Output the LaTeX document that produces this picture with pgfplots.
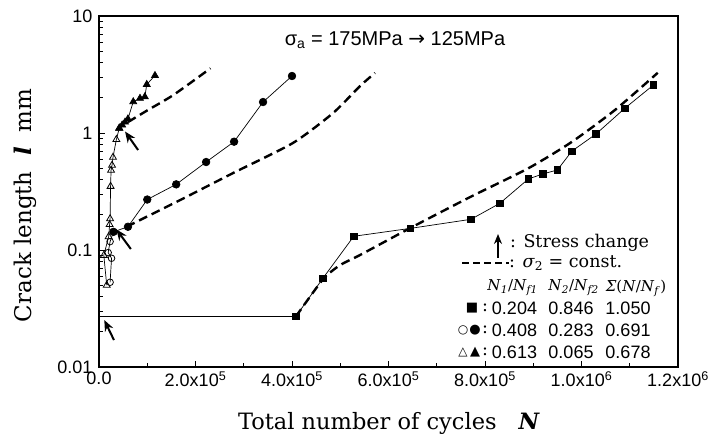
\documentclass[border=0pt]{standalone}
\usepackage{fontspec}
\setmainfont{DejaVu Serif}
\newfontfamily\sansf{Liberation Sans}
\newfontfamily\symf{DejaVu Sans}
\usepackage{pgfplots}
\pgfplotsset{compat=1.18}
\usetikzlibrary{arrows.meta}

\pgfplotstableread{
N l
408000 0.027
464000 0.0573
528000 0.131
645000 0.153
771000 0.183
831000 0.251
890000 0.405
920000 0.447
950000 0.483
980000 0.70
1030000 0.98
1090000 1.63
1149000 2.57
}\squares

\pgfplotstableread{
N l
408000 0.027
464000 0.0560
499000 0.0740
541000 0.0906
645000 0.154
771000 0.286
890000 0.50
980000 0.84
1070000 1.58
1158000 3.27
}\squaresdash

\pgfplotstableread{
N l
23000 0.053
26000 0.085
19000 0.095
23000 0.118
30000 0.143
}\opencircles

\pgfplotstableread{
N l
30000 0.143
60000 0.158
100000 0.27
160000 0.364
222000 0.565
280000 0.843
340000 1.84
400000 3.07
}\filledcircles

\pgfplotstableread{
N l
57000 0.158
168000 0.267
278000 0.455
402000 0.822
485000 1.48
541000 2.52
572000 3.26
}\circlesdash

\pgfplotstableread{
N l
16000 0.050
10000 0.090
20000 0.130
22000 0.165
23000 0.185
24000 0.35
25000 0.48
27000 0.53
29000 0.62
36000 0.88
42000 1.10
}\opentri

\pgfplotstableread{
N l
42000 1.10
48000 1.17
54000 1.24
60000 1.32
71000 1.85
85000 1.98
95000 2.04
99000 2.60
116000 3.10
}\filledtri

\pgfplotstableread{
N l
60000 1.24
100000 1.56
154000 2.11
231000 3.57
}\tridash

\begin{document}
\begin{tikzpicture}
\begin{axis}[
  at={(0pt,0pt)}, anchor=south west,
  scale only axis, width=579pt, height=351pt,
  xmin=0, xmax=1.2e6, ymin=0.01, ymax=10, ymode=log,
  xtick={0,200000,400000,600000,800000,1000000,1200000},
  xticklabels={0.0, 2.0x10\textsuperscript{5}, 4.0x10\textsuperscript{5}, 6.0x10\textsuperscript{5}, 8.0x10\textsuperscript{5}, 1.0x10\textsuperscript{6}, 1.2x10\textsuperscript{6}},
  minor xtick={100000,300000,500000,700000,900000,1100000},
  ytick={0.01,0.1,1,10}, yticklabels={0.01,0.1,1,10},
  minor ytick={0.02,0.03,0.04,0.05,0.06,0.07,0.08,0.09,0.2,0.3,0.4,0.5,0.6,0.7,0.8,0.9,2,3,4,5,6,7,8,9},
  tick align=inside, xtick pos=left, ytick pos=left,
  major tick length=6pt, minor tick length=4pt,
  axis line style={line width=1.1pt},
  tick style={line width=0.9pt, black},
  tick label style={font=\sansf\fontsize{18}{21}\selectfont},
  xticklabel style={yshift=-1pt},
  yticklabel style={xshift=-3pt},
  scaled x ticks=false,
  clip=false,
]
% horizontal start segment of square series
\addplot[black, line width=0.8pt, no marks] coordinates {(0,0.027) (408000,0.027)};
% dashed predictions
\addplot[black, line width=2.4pt, dash pattern=on 9pt off 5pt, no marks, smooth, tension=0.4] table[x=N,y=l] {\squaresdash};
\addplot[black, line width=2.4pt, dash pattern=on 9pt off 5pt, no marks, smooth, tension=0.4] table[x=N,y=l] {\circlesdash};
\addplot[black, line width=2.4pt, dash pattern=on 9pt off 5pt, no marks, smooth, tension=0.4] table[x=N,y=l] {\tridash};
% squares
\addplot[black, line width=0.7pt, mark=square*, mark size=3.2pt, mark options={solid,fill=black}] table[x=N,y=l] {\squares};
% circles
\addplot[black, line width=0.7pt, mark=*, mark size=3.8pt, mark options={solid,fill=black}] table[x=N,y=l] {\filledcircles};
\addplot[black, line width=0.7pt, mark=o, mark size=3.3pt, mark options={solid,fill=white,line width=0.8pt}] table[x=N,y=l] {\opencircles};
% triangles
\addplot[black, line width=0.7pt, mark=triangle*, mark size=4pt, mark options={solid,fill=black}] table[x=N,y=l] {\filledtri};
\addplot[black, line width=0.7pt, mark=triangle, mark size=4pt, mark options={solid,fill=white,line width=0.8pt}] table[x=N,y=l] {\opentri};
% stress change arrows
\draw[line width=2pt, -{Stealth[length=11pt,width=9pt]}] (axis cs:31000,0.0170) -- (axis cs:11000,0.0252);
\draw[line width=2pt, -{Stealth[length=11pt,width=9pt]}] (axis cs:66000,0.102) -- (axis cs:36000,0.150);
\draw[line width=2pt, -{Stealth[length=11pt,width=9pt]}] (axis cs:81000,0.716) -- (axis cs:54000,1.03);
\end{axis}

% axis labels
\node[font=\fontsize{22.5}{26}\selectfont] at (290pt,-56pt) {Total number of cycles\hspace{22pt}\textbf{\textit{N}}};
\node[font=\fontsize{23}{26}\selectfont, rotate=90] at (-74pt,161.5pt) {Crack length\hspace{16pt}\textbf{\textit{l}}\hspace{14pt}mm};

% title annotation
\node[font=\sansf\fontsize{20}{23}\selectfont] at (296pt,327pt) {σ\textsubscript{a} = 175MPa {\symf →} 125MPa};

% legend
\begin{scope}[font=\fontsize{17.5}{20}\selectfont]
\draw[line width=2pt, -{Stealth[length=10pt,width=8pt]}] (399pt,109pt) -- (399pt,133pt);
\node[anchor=west, inner sep=0pt] at (411pt,124pt) {: Stress change};
\draw[line width=2.4pt, dash pattern=on 7pt off 4pt] (363pt,104pt) -- (410pt,104pt);
\node[anchor=west, inner sep=0pt] at (410pt,104pt) {: \textit{σ}\textsubscript{2} = const.};
\begin{scope}[font=\fontsize{15}{18}\selectfont, inner sep=0pt]
\node at (413.5pt,79pt) {\textit{N}\textsubscript{\textit{1}}/\textit{N}\textsubscript{\textit{f1}}};
\node at (474.5pt,79pt) {\textit{N}\textsubscript{\textit{2}}/\textit{N}\textsubscript{\textit{f2}}};
\node at (537pt,79pt) {\textit{Σ}(\textit{N}/\textit{N}\textsubscript{\textit{f}})};
\end{scope}
\node at (373pt,59pt) {{\symf\fontsize{13}{14}\selectfont ■}};
\node at (376pt,37pt) {{\symf\fontsize{13}{14}\selectfont ●}};
\node at (364pt,37pt) {{\symf\fontsize{12}{14}\selectfont ○}};
\node at (376pt,15pt) {{\symf\fontsize{13}{14}\selectfont ▲}};
\node at (364pt,15pt) {{\symf\fontsize{12}{14}\selectfont △}};
\node at (386pt,59pt) {:};
\node at (386pt,37pt) {:};
\node at (386pt,15pt) {:};
\begin{scope}[font=\sansf\fontsize{18}{20}\selectfont]
\node at (415.5pt,59pt) {0.204};
\node at (472pt,59pt) {0.846};
\node at (529pt,59pt) {1.050};
\node at (415.5pt,37pt) {0.408};
\node at (472pt,37pt) {0.283};
\node at (529pt,37pt) {0.691};
\node at (415.5pt,15pt) {0.613};
\node at (472pt,15pt) {0.065};
\node at (529pt,15pt) {0.678};
\end{scope}
\end{scope}

\pgfresetboundingbox
\path[use as bounding box] (-99pt,-74pt) rectangle (615pt,367pt);
\end{tikzpicture}
\end{document}
